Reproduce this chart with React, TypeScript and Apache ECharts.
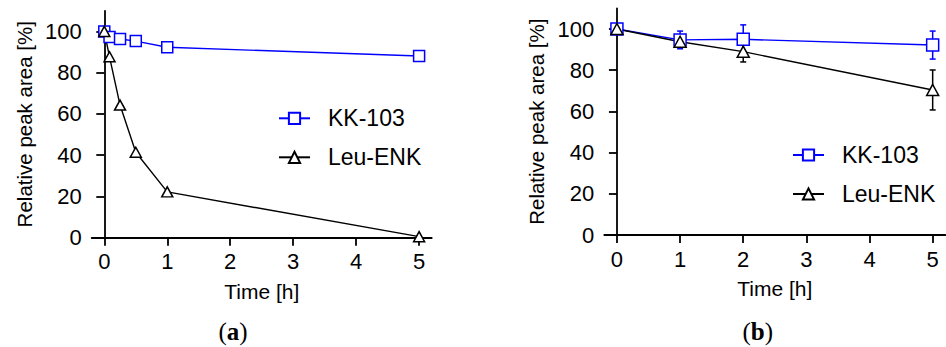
import React, { useEffect, useRef } from "react";
import * as echarts from "echarts";

// Panel (a)
const timeA = [0, 0.083, 0.25, 0.5, 1, 5];
const kkA = [100, 97.3, 96.3, 95.3, 92.3, 88.1];
const leuA = [100, 87.7, 64.3, 41.4, 22.2, 0.5];

// Panel (b)
const timeB = [0, 1, 2, 5];
const kkB = [100, 94.7, 95, 92.2];
const kkBErr = [0, 4.3, 7, 6.8];
const leuB = [100, 93.8, 89, 70.4];
const leuBErr = [0, 1.5, 5, 9.7];

const xTicks = [0, 1, 2, 3, 4, 5];
const yTicks = [0, 20, 40, 60, 80, 100];

const BLUE = "#0000ff";
const BLACK = "#000000";
const FONT = "'Liberation Sans', Arial, sans-serif";
const SERIF = "'Liberation Serif', 'Times New Roman', serif";

export default function App() {
  const ref = useRef<HTMLDivElement>(null);

  useEffect(() => {
    if (!ref.current) return;
    const chart = echarts.init(ref.current, null, { renderer: "svg" });

    const axisCommon = {
      axisLine: { show: true, lineStyle: { color: BLACK, width: 1.8 } },
      axisTick: { show: true, length: 8, lineStyle: { color: BLACK, width: 1.8 } },
      splitLine: { show: false },
    };

    const mkX = (gi: number) => ({
      type: "value",
      gridIndex: gi,
      min: -0.2,
      max: 5.2,
      ...axisCommon,
      axisTick: { ...axisCommon.axisTick, customValues: xTicks },
      axisLabel: {
        customValues: xTicks,
        color: BLACK,
        fontSize: 22,
        fontFamily: FONT,
        margin: 13,
      },
      name: "Time [h]",
      nameLocation: "middle",
      nameGap: 43,
      nameTextStyle: { color: BLACK, fontSize: 21, fontFamily: FONT },
    });

    const mkY = (gi: number) => ({
      type: "value",
      gridIndex: gi,
      min: 0,
      max: 110,
      ...axisCommon,
      axisTick: { ...axisCommon.axisTick, customValues: yTicks },
      axisLabel: {
        customValues: yTicks,
        color: BLACK,
        fontSize: 22,
        fontFamily: FONT,
        margin: 10,
      },
      name: "Relative peak area [%]",
      nameLocation: "middle",
      nameGap: 57,
      nameTextStyle: { color: BLACK, fontSize: 20.5, fontFamily: FONT },
    });

    const lineSeries = (
      name: string,
      gi: number,
      xs: number[],
      ys: number[],
      color: string,
      symbol: string,
      size: number | number[]
    ) => ({
      type: "line",
      name,
      xAxisIndex: gi,
      yAxisIndex: gi,
      data: xs.map((x, i) => [x, ys[i]]),
      symbol,
      symbolSize: size,
      showAllSymbol: true,
      lineStyle: { color, width: 1.4 },
      itemStyle: { color: "#ffffff", borderColor: color, borderWidth: 1.5 },
      z: 3,
    });

    const errSeries = (
      name: string,
      gi: number,
      xs: number[],
      ys: number[],
      errs: number[],
      color: string
    ) => ({
      type: "custom",
      name,
      xAxisIndex: gi,
      yAxisIndex: gi,
      data: xs.map((x, i) => [x, ys[i] - errs[i], ys[i] + errs[i]]),
      encode: { x: 0, y: [1, 2] },
      z: 2,
      renderItem: (params: any, api: any) => {
        const x = api.value(0);
        const lo = api.coord([x, api.value(1)]);
        const hi = api.coord([x, api.value(2)]);
        const w = 3;
        const st = { stroke: color, lineWidth: 1.5 };
        return {
          type: "group",
          children: [
            { type: "line", shape: { x1: hi[0], y1: hi[1], x2: lo[0], y2: lo[1] }, style: st },
            { type: "line", shape: { x1: hi[0] - w, y1: hi[1], x2: hi[0] + w, y2: hi[1] }, style: st },
            { type: "line", shape: { x1: lo[0] - w, y1: lo[1], x2: lo[0] + w, y2: lo[1] }, style: st },
          ],
        };
      },
    });

    const legendCommon = {
      orient: "vertical",
      padding: 0,
      itemWidth: 31,
      itemHeight: 14,
      itemGap: 14,
      selectedMode: false,
      data: ["KK-103", "Leu-ENK"],
      textStyle: {
        color: BLACK,
        fontSize: 23,
        fontFamily: FONT,
        lineHeight: 25,
        padding: [0, 0, 0, 13],
      },
    };

    const caption = (letter: string, x: number) => ({
      type: "text",
      x,
      y: 331.7,
      style: {
        text: `{p|(}{b|${letter}}{p|)}`,
        align: "center",
        verticalAlign: "middle",
        rich: {
          p: { fontFamily: SERIF, fontSize: 25, fill: BLACK },
          b: { fontFamily: SERIF, fontSize: 25, fontWeight: "bold", fill: BLACK },
        },
      },
    });

    chart.setOption({
      animation: false,
      backgroundColor: "#ffffff",
      grid: [
        { left: 91.7, top: 10.8, width: 340, height: 226.9, containLabel: false },
        { left: 604.3, top: 8.4, width: 341, height: 226.6, containLabel: false },
      ],
      xAxis: [mkX(0), mkX(1)],
      yAxis: [mkY(0), mkY(1)],
      legend: [
        { ...legendCommon, left: 278, top: 105.8 },
        { ...legendCommon, left: 792, top: 142.5 },
      ],
      series: [
        lineSeries("KK-103", 0, timeA, kkA, BLUE, "rect", 11),
        lineSeries("Leu-ENK", 0, timeA, leuA, BLACK, "triangle", [11, 10]),
        errSeries("KK-103 SD", 1, timeB, kkB, kkBErr, BLUE),
        errSeries("Leu-ENK SD", 1, timeB, leuB, leuBErr, BLACK),
        lineSeries("KK-103", 1, timeB, kkB, BLUE, "rect", 12),
        lineSeries("Leu-ENK", 1, timeB, leuB, BLACK, "triangle", [12, 11]),
      ],
      graphic: [caption("a", 233), caption("b", 757.7)],
    });

    return () => chart.dispose();
  }, []);

  return (
    <div
      ref={ref}
      style={{ position: "fixed", left: 0, top: 0, width: 946, height: 347, background: "#fff" }}
    />
  );
}
